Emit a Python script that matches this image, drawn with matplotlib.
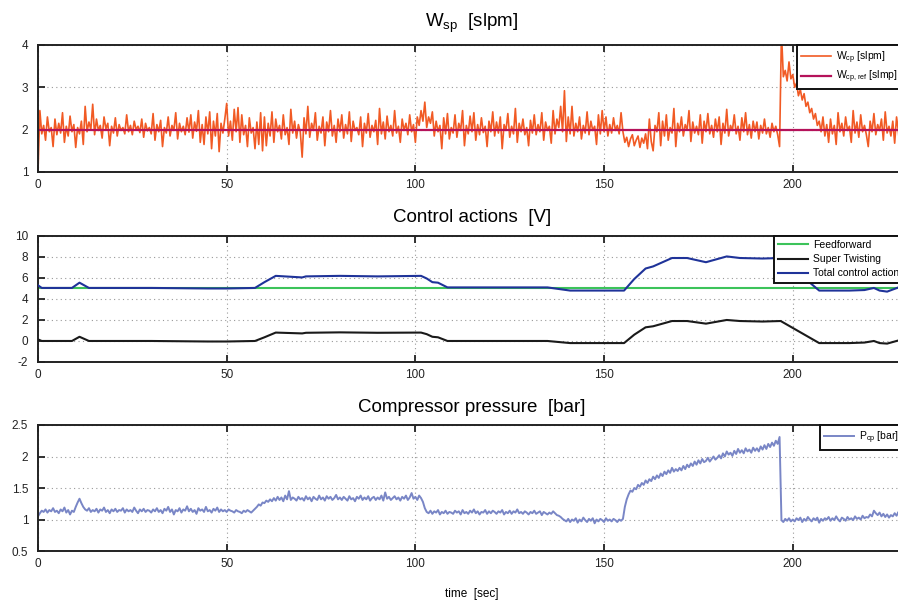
import numpy as np
import matplotlib
matplotlib.use("Agg")
import matplotlib.pyplot as plt
from matplotlib.ticker import FormatStrFormatter

plt.rcParams["font.family"] = ["Liberation Sans", "DejaVu Sans"]
plt.rcParams["mathtext.default"] = "regular"

# W_cp [slpm], one sample every 0.5 s (rows of 10 s)
w_cp = [
    1.00, 2.45, 1.90, 2.10, 1.75, 2.30, 1.95, 2.05, 1.60, 2.25, 1.88, 2.15, 1.92, 2.40, 1.70, 2.08, 1.85, 2.32, 1.95, 2.12,
    1.58, 2.05, 1.90, 2.20, 1.65, 2.55, 1.95, 2.18, 2.00, 2.60, 1.88, 2.25, 1.98, 2.10, 1.80, 2.30, 2.02, 2.15, 1.62, 2.08,
    1.92, 2.28, 1.85, 2.12, 1.98, 2.05, 1.90, 2.35, 1.95, 2.10, 1.88, 2.20, 2.00, 2.08, 1.93, 2.25, 1.82, 2.15, 1.97, 2.05,
    1.90, 2.38, 1.75, 2.12, 1.95, 2.22, 1.60, 2.05, 1.92, 2.30, 1.85, 2.10, 1.98, 2.40, 1.78, 2.15, 1.95, 2.08, 1.88, 2.28,
    1.94, 2.35, 1.80, 2.18, 1.96, 2.45, 1.70, 2.12, 1.65, 2.30, 1.90, 2.42, 1.55, 2.20, 1.85, 2.38, 1.48, 2.15, 1.92, 2.25,
    2.62, 1.85, 2.20, 1.75, 2.48, 1.95, 2.52, 1.70, 2.35, 1.88, 2.10, 1.60, 2.28, 1.92, 2.05, 1.55, 2.18, 1.65, 2.40, 1.50,
    2.30, 1.62, 2.15, 1.85, 2.42, 1.70, 2.25, 1.95, 2.10, 1.78, 2.35, 1.88, 2.05, 1.65, 2.48, 1.92, 2.20, 1.80, 2.12, 1.95,
    1.35, 2.28, 1.90, 2.55, 1.82, 2.15, 1.98, 2.40, 1.75, 2.08, 1.92, 2.30, 1.62, 2.18, 1.95, 2.45, 1.85, 2.10, 1.70, 2.25,
    1.95, 2.35, 1.80, 2.12, 1.90, 2.42, 1.72, 2.20, 1.98, 2.05, 1.88, 2.30, 1.60, 2.15, 1.92, 2.38, 1.82, 2.10, 1.95, 2.22,
    1.65, 2.50, 1.90, 2.18, 1.78, 2.32, 1.95, 2.10, 1.85, 2.45, 1.92, 2.08, 1.70, 2.25, 1.98, 2.15, 1.88, 2.35, 1.95, 2.12,
    1.70, 2.30, 2.10, 2.45, 2.20, 2.65, 2.05, 2.30, 2.15, 2.42, 1.85, 2.20, 1.95, 2.10, 1.55, 2.28, 1.90, 2.38, 1.78, 2.05,
    1.92, 2.35, 1.82, 2.15, 1.98, 2.45, 1.62, 2.10, 1.90, 2.32, 1.95, 2.40, 1.75, 2.12, 1.88, 2.28, 1.93, 2.08, 1.60, 2.20,
    1.95, 2.42, 1.85, 2.18, 1.92, 2.30, 1.55, 2.12, 1.98, 2.38, 1.82, 2.08, 1.90, 2.50, 1.70, 2.15, 1.95, 2.25, 1.88, 2.05,
    1.62, 2.22, 1.92, 2.35, 1.88, 2.12, 1.95, 2.40, 1.75, 2.18, 1.98, 2.08, 1.68, 2.45, 1.90, 2.25, 2.05, 2.55, 1.95, 2.92,
    1.72, 2.30, 1.90, 2.55, 1.85, 2.15, 1.95, 2.30, 1.78, 2.10, 1.92, 2.42, 1.88, 2.20, 1.98, 2.08, 1.65, 2.35, 1.90, 2.45,
    1.95, 2.30, 1.85, 2.12, 1.92, 2.28, 1.98, 2.10, 1.90, 2.40, 1.95, 1.70, 1.82, 1.60, 1.78, 1.88, 1.62, 1.75, 1.85, 1.58,
    1.80, 1.68, 1.90, 1.55, 2.25, 1.72, 1.50, 2.10, 1.95, 2.40, 1.62, 2.20, 1.85, 2.35, 1.75, 2.05, 1.92, 2.50, 1.60, 2.15,
    1.95, 2.30, 1.85, 2.12, 2.00, 2.45, 1.72, 2.18, 1.92, 2.08, 1.88, 2.35, 1.68, 2.20, 1.95, 2.38, 1.90, 2.10, 1.82, 2.25,
    1.95, 2.30, 1.65, 2.15, 1.92, 2.48, 1.85, 2.10, 1.98, 2.35, 1.90, 2.08, 1.75, 2.28, 1.95, 2.40, 1.88, 2.12, 1.80, 2.20,
    1.95, 2.18, 1.78, 2.10, 1.92, 2.25, 1.90, 2.05, 1.82, 2.15, 1.95, 2.08, 1.88, 1.60, 4.30, 3.25, 3.40, 3.15, 3.60, 3.20,
    3.30, 3.00, 3.10, 2.80, 2.95, 2.70, 2.85, 2.55, 2.65, 2.40, 2.50, 2.25, 2.38, 2.10, 2.20, 1.95, 2.30, 1.85, 2.12, 1.70,
    2.25, 1.90, 2.10, 1.65, 2.40, 1.95, 2.15, 1.85, 2.30, 1.98, 2.08, 1.70, 2.45, 1.92, 2.18, 1.82, 2.35, 1.95, 2.10, 1.88,
    1.60, 2.20, 1.95, 2.38, 1.88, 2.12, 1.98, 2.25, 1.75, 2.42, 1.92, 2.08, 1.85, 2.20, 1.68, 2.30, 1.95, 1.45, 2.05, 1.80,
    2.10,
]
w_cp_ref_t = [0, 230]
w_cp_ref = [2.0, 2.0]

# P_cp [bar], one sample every 0.5 s (rows of 10 s)
p_cp = [
    1.05, 1.10, 1.14, 1.12, 1.16, 1.11, 1.15, 1.13, 1.18, 1.12, 1.14, 1.10, 1.16, 1.13, 1.19, 1.11, 1.15, 1.08, 1.14, 1.12,
    1.20, 1.27, 1.33, 1.26, 1.20, 1.16, 1.14, 1.18, 1.12, 1.15, 1.13, 1.17, 1.11, 1.16, 1.14, 1.19, 1.12, 1.15, 1.10, 1.16,
    1.13, 1.17, 1.12, 1.15, 1.14, 1.18, 1.11, 1.16, 1.13, 1.15, 1.12, 1.19, 1.14, 1.10, 1.16, 1.13, 1.17, 1.12, 1.15, 1.14,
    1.11, 1.16, 1.13, 1.18, 1.12, 1.15, 1.10, 1.17, 1.14, 1.20, 1.12, 1.16, 1.08, 1.15, 1.13, 1.18, 1.11, 1.16, 1.14, 1.21,
    1.13, 1.17, 1.12, 1.15, 1.09, 1.18, 1.14, 1.16, 1.12, 1.20, 1.13, 1.15, 1.11, 1.17, 1.14, 1.19, 1.12, 1.16, 1.13, 1.15,
    1.12, 1.16, 1.14, 1.13, 1.11, 1.15, 1.13, 1.12, 1.10, 1.14, 1.12, 1.15, 1.13, 1.11, 1.14, 1.17, 1.20, 1.24, 1.22, 1.27,
    1.26, 1.30, 1.28, 1.32, 1.29, 1.34, 1.30, 1.36, 1.31, 1.35, 1.29, 1.38, 1.32, 1.45, 1.31, 1.35, 1.33, 1.30, 1.36, 1.32,
    1.34, 1.30, 1.37, 1.32, 1.35, 1.29, 1.36, 1.33, 1.31, 1.38, 1.32, 1.35, 1.30, 1.37, 1.33, 1.36, 1.31, 1.34, 1.39, 1.32,
    1.35, 1.31, 1.36, 1.33, 1.30, 1.37, 1.32, 1.34, 1.29, 1.36, 1.33, 1.38, 1.31, 1.35, 1.32, 1.37, 1.30, 1.34, 1.36, 1.31,
    1.35, 1.32, 1.38, 1.30, 1.43, 1.33, 1.36, 1.31, 1.34, 1.37, 1.32, 1.35, 1.30, 1.36, 1.33, 1.38, 1.31, 1.35, 1.42, 1.33,
    1.36, 1.31, 1.38, 1.34, 1.28, 1.18, 1.12, 1.10, 1.14, 1.09, 1.13, 1.11, 1.15, 1.08, 1.12, 1.10, 1.14, 1.09, 1.12, 1.11,
    1.09, 1.14, 1.11, 1.13, 1.08, 1.15, 1.10, 1.12, 1.09, 1.14, 1.11, 1.16, 1.10, 1.13, 1.08, 1.12, 1.11, 1.15, 1.09, 1.13,
    1.10, 1.14, 1.12, 1.09, 1.13, 1.11, 1.15, 1.08, 1.12, 1.10, 1.14, 1.09, 1.13, 1.11, 1.16, 1.10, 1.12, 1.09, 1.13, 1.11,
    1.08, 1.12, 1.10, 1.14, 1.09, 1.11, 1.13, 1.07, 1.12, 1.10, 1.08, 1.11, 1.09, 1.13, 1.10, 1.07, 1.06, 1.04, 1.01, 0.99,
    0.97, 1.01, 0.96, 1.00, 0.98, 1.02, 0.95, 1.00, 0.97, 1.03, 0.99, 0.96, 1.01, 0.98, 1.02, 0.94, 1.00, 0.97, 1.01, 0.99,
    0.96, 1.02, 0.98, 1.00, 0.97, 1.01, 0.99, 0.96, 1.00, 0.98, 1.01, 1.20, 1.32, 1.40, 1.46, 1.44, 1.50, 1.48, 1.55, 1.52,
    1.58, 1.55, 1.62, 1.58, 1.64, 1.61, 1.68, 1.64, 1.70, 1.66, 1.73, 1.69, 1.76, 1.72, 1.78, 1.74, 1.82, 1.76, 1.80, 1.77,
    1.82, 1.78, 1.85, 1.80, 1.87, 1.83, 1.89, 1.85, 1.92, 1.87, 1.94, 1.89, 1.96, 1.91, 1.93, 1.98, 1.92, 1.96, 2.00, 1.95,
    1.98, 2.02, 1.97, 2.05, 2.00, 2.08, 2.03, 2.06, 2.01, 2.09, 2.04, 2.12, 2.06, 2.10, 2.05, 2.13, 2.08, 2.11, 2.06, 2.14,
    2.09, 2.13, 2.08, 2.16, 2.11, 2.18, 2.12, 2.20, 2.15, 2.22, 2.17, 2.25, 2.20, 2.31, 0.99, 0.96, 1.01, 0.98, 1.02, 0.97,
    1.00, 0.97, 1.02, 0.99, 1.03, 0.96, 1.01, 0.98, 1.04, 1.00, 0.97, 1.02, 0.99, 1.03, 0.95, 1.01, 0.98, 1.02, 1.00, 1.04,
    0.98, 1.02, 0.99, 1.05, 1.00, 0.97, 1.03, 1.01, 0.98, 1.04, 1.00, 1.02, 0.99, 1.05, 1.01, 1.03, 1.00, 1.06, 1.02, 1.04,
    1.03, 1.08, 1.05, 1.14, 1.10, 1.07, 1.11, 1.05, 1.09, 1.04, 1.08, 1.03, 1.07, 1.05, 1.10, 1.06, 1.12, 1.08, 1.05, 1.10,
    1.08,
]

# time base of the sampled signals
time_s = np.arange(0, 230.5, 0.5)
assert len(w_cp) == len(time_s) and len(p_cp) == len(time_s)

# control actions [V], breakpoints
ctrl_t = [0, 1, 9, 11, 13.5, 30, 45, 50, 57.5, 60,
          63, 70, 71, 80, 90, 101.5, 103, 104.5, 106, 108.5,
          120, 135, 141, 150, 155.3, 158, 161, 163, 168, 172,
          177, 182.5, 186, 192, 196.8, 207, 215, 219, 221.5, 223,
          225, 228, 230]
super_twisting = [0.15, 0.0, 0.0, 0.4, 0.0, 0.0, -0.05, -0.05, 0.0, 0.35,
                  0.8, 0.72, 0.78, 0.82, 0.78, 0.8, 0.65, 0.4, 0.35, 0.0,
                  0.0, 0.0, -0.2, -0.2, -0.2, 0.6, 1.3, 1.4, 1.9, 1.9,
                  1.65, 2.0, 1.9, 1.85, 1.9, -0.2, -0.2, -0.15, 0.0, -0.2,
                  -0.25, 0.05, 0.05]
total_control = [5.3, 5.05, 5.05, 5.55, 5.05, 5.05, 5.0, 5.0, 5.05, 5.6,
                 6.2, 6.05, 6.15, 6.2, 6.15, 6.2, 5.95, 5.6, 5.55, 5.1,
                 5.1, 5.1, 4.8, 4.8, 4.8, 5.9, 6.9, 7.1, 7.9, 7.9,
                 7.5, 8.05, 7.9, 7.85, 7.9, 4.8, 4.8, 4.85, 5.05, 4.8,
                 4.7, 5.1, 5.1]
feedforward_t = [0, 230]
feedforward = [5.0, 5.0]

x_ticks = [0, 50, 100, 150, 200]


def style_axis(ax, yticks):
    ax.set_xlim(0, 230)
    ax.set_xticks(x_ticks)
    ax.set_yticks(yticks)
    ax.set_ylim(yticks[0], yticks[-1])
    ax.yaxis.set_major_formatter(FormatStrFormatter("%g"))
    ax.grid(True, linestyle=(0, (1, 3)), color="#999999", linewidth=0.8)
    ax.tick_params(direction="in", length=5, width=1.3, labelsize=8.5,
                   top=True, right=True, pad=5, colors="#222222")
    ax.tick_params(axis="y", pad=7)
    for sp in ax.spines.values():
        sp.set_linewidth(1.4)
        sp.set_color("#222222")


def add_legend(ax, fig, x_left, spacing):
    # the reference crops its legends at the right edge, so these run past it too
    leg = ax.legend(loc="upper left", bbox_to_anchor=(x_left, ax.get_position().y1),
                    bbox_transform=fig.transFigure, fontsize=7.5, fancybox=False,
                    framealpha=1, borderaxespad=0, handlelength=2.9,
                    handletextpad=0.45, labelspacing=spacing, borderpad=0.4)
    leg.get_frame().set_edgecolor("#111111")
    leg.get_frame().set_linewidth(1.4)


fig = plt.figure(figsize=(8.98, 6.03), dpi=100)
ax1 = fig.add_axes([0.0423, 0.7148, 0.9666, 0.2106])
ax2 = fig.add_axes([0.0423, 0.3997, 0.9666, 0.2090])
ax3 = fig.add_axes([0.0423, 0.0862, 0.9666, 0.2090])

# top: flow
ax1.plot(time_s, w_cp, color="#f15a24", linewidth=1.2, label=r"W$_{cp}$ [slpm]")
ax1.plot(w_cp_ref_t, w_cp_ref, color="#b5125a", linewidth=1.6, label=r"W$_{cp,ref}$ [slmp]")
style_axis(ax1, [1, 2, 3, 4])
ax1.set_title(r"W$_{sp}$  [slpm]", fontsize=13.5, pad=13)
add_legend(ax1, fig, 797 / 898, 0.3)

# middle: control actions
ax2.plot(feedforward_t, feedforward, color="#3cc35a", linewidth=1.5, label="Feedforward", zorder=2)
ax2.plot(ctrl_t, super_twisting, color="#1a1a1a", linewidth=1.5, label="Super Twisting", zorder=3)
ax2.plot(ctrl_t, total_control, color="#1f3399", linewidth=1.5, label="Total control action", zorder=4)
style_axis(ax2, [-2, 0, 2, 4, 6, 8, 10])
ax2.set_title("Control actions  [V]", fontsize=13.5, pad=10)
add_legend(ax2, fig, 774 / 898, 0.4)

# bottom: pressure
ax3.plot(time_s, p_cp, color="#7986c6", linewidth=1.4, label=r"P$_{cp}$ [bar]")
style_axis(ax3, [0.5, 1, 1.5, 2, 2.5])
ax3.set_title("Compressor pressure  [bar]", fontsize=13.5, pad=9)
ax3.set_xlabel("time  [sec]", fontsize=8.5, labelpad=13)
add_legend(ax3, fig, 820 / 898, 0.4)

fig.savefig("out.png", dpi=100)
